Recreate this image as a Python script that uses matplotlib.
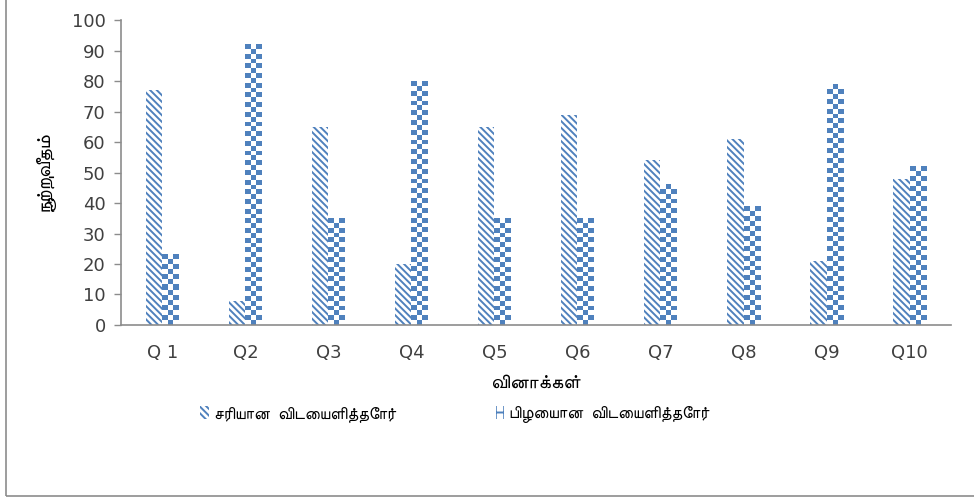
import matplotlib
matplotlib.use('Agg')
import matplotlib.pyplot as plt
import numpy as np
from matplotlib.patches import Patch, Rectangle
from matplotlib.colors import ListedColormap

questions = ['Q 1', 'Q2', 'Q3', 'Q4', 'Q5', 'Q6', 'Q7', 'Q8', 'Q9', 'Q10']
correct = [77, 8, 65, 20, 65, 69, 54, 61, 21, 48]
wrong = [23, 92, 35, 80, 35, 35, 46, 39, 79, 52]

labels = ['சரியான  விடையளித்தோர்', 'பிழையான  விடையளித்தோர்']
xlabel = 'வினாக்கள்'
ylabel = 'நூற்றுவீதம்'

blue = '#4F81BD'
tfam = ['FreeSans', 'DejaVu Sans']

plt.rcParams['font.family'] = ['DejaVu Sans']
plt.rcParams['hatch.linewidth'] = 1.4

fig = plt.figure(figsize=(9.74, 4.98), dpi=100)
ax = fig.add_axes([0.1242, 0.3474, 0.8522, 0.6124])

x = np.arange(len(questions))
w = 0.195
b1 = ax.bar(x - w / 2, correct, w, color='white', edgecolor=blue, linewidth=0,
            hatch='\\\\\\\\\\')
b2 = ax.bar(x + w / 2, wrong, w, color='none', linewidth=0)

# checkerboard fill for the second series, one small image per bar
cmap = ListedColormap(['white', blue])
for bar in b2:
    x0, h = bar.get_x(), bar.get_height()
    ny, nx = max(1, round(h / 1.6)), 3
    checker = (np.add.outer(np.arange(ny), np.arange(nx)) % 2).astype(float)
    ax.imshow(checker, extent=(x0, x0 + bar.get_width(), 0, h), aspect='auto',
              cmap=cmap, interpolation='nearest', origin='lower', vmin=0, vmax=1,
              zorder=2)

ax.set_xlim(-0.5, 9.5)
ax.set_ylim(0, 100)
ax.set_yticks(range(0, 101, 10))
ax.set_xticks(x)
ax.set_xticklabels(questions)
ax.tick_params(axis='x', length=0, pad=14, labelsize=13, colors='#404040')
ax.tick_params(axis='y', length=5, width=1, color='#8c8c8c', labelsize=13,
               labelcolor='#404040', pad=6)
for s in ['top', 'right']:
    ax.spines[s].set_visible(False)
for s in ['left', 'bottom']:
    ax.spines[s].set_color('#8c8c8c')
    ax.spines[s].set_linewidth(1.2)
    ax.spines[s].set_zorder(3)

ax.set_xlabel(xlabel, family=tfam, fontsize=14, labelpad=8)
ax.set_ylabel(ylabel, family=tfam, fontsize=14, labelpad=12)

handles = [Patch(facecolor='white', edgecolor=blue, hatch='\\\\\\\\\\', linewidth=0),
           Patch(facecolor='white', edgecolor=blue, hatch='++', linewidth=0)]
fig.legend(handles, labels, loc='center', bbox_to_anchor=(0.467, 0.167), ncol=2,
           frameon=False, handlelength=0.5, handleheight=0.8, handletextpad=0.3,
           columnspacing=6, prop={'family': tfam, 'size': 12})

fig.patches.append(Rectangle((6 / 974, 2 / 498), 1.2, 1, transform=fig.transFigure,
                             fill=False, edgecolor='#8c8c8c', linewidth=1.2))

fig.savefig('out.png', dpi=100)
